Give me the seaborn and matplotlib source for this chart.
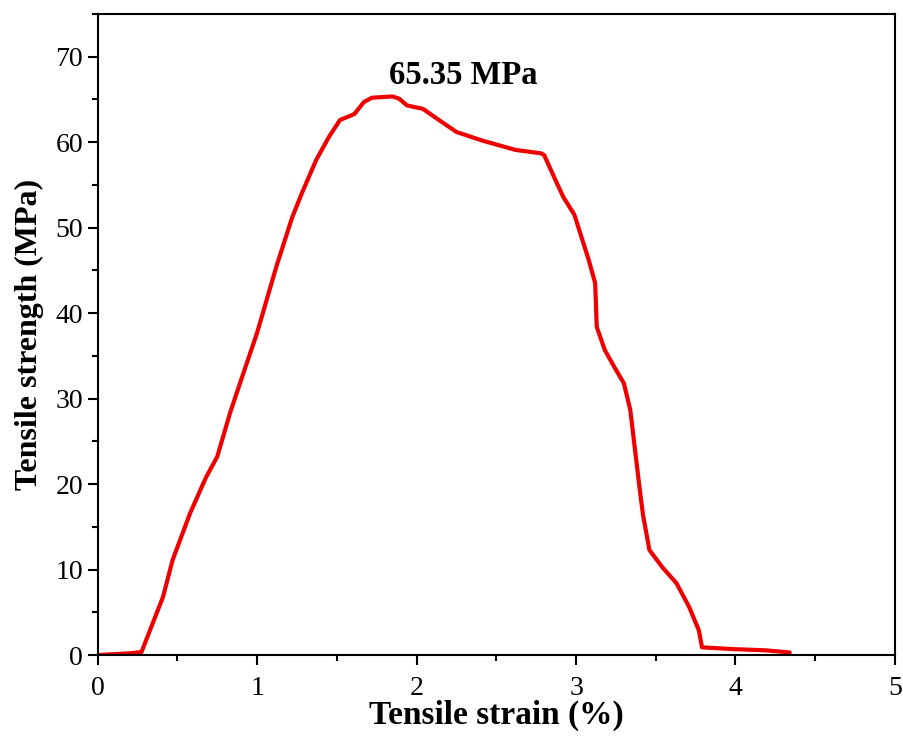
import matplotlib
matplotlib.use("Agg")
import matplotlib.pyplot as plt
import seaborn as sns
import pandas as pd
from matplotlib.ticker import MultipleLocator

strain = [0, 0.10, 0.20, 0.275, 0.41, 0.47, 0.58, 0.68, 0.75, 0.83, 0.90, 1.0,
          1.12, 1.22, 1.28, 1.37, 1.45, 1.52, 1.56, 1.61, 1.67, 1.72, 1.80, 1.85,
          1.89, 1.94, 2.04, 2.14, 2.25, 2.41, 2.62, 2.78, 2.80, 2.88, 2.92, 2.99,
          3.08, 3.12, 3.13, 3.18, 3.24, 3.30, 3.34, 3.37, 3.40, 3.42, 3.46, 3.54,
          3.63, 3.71, 3.77, 3.79, 3.98, 4.19, 4.34]
stress = [0, 0.1, 0.2, 0.35, 6.8, 11.1, 16.6, 20.8, 23.2, 28.3, 32.2, 37.7,
          45.4, 51.2, 54.0, 57.9, 60.6, 62.6, 62.9, 63.3, 64.7, 65.2, 65.3, 65.35,
          65.1, 64.3, 63.9, 62.6, 61.2, 60.2, 59.1, 58.7, 58.5, 55.2, 53.6, 51.5,
          46.2, 43.5, 38.4, 35.7, 33.7, 31.8, 28.7, 24.0, 19.3, 16.4, 12.3, 10.3,
          8.4, 5.6, 2.9, 0.9, 0.7, 0.55, 0.3]
peak_label = "65.35 MPa"
xlabel = "Tensile strain (%)"
ylabel = "Tensile strength (MPa)"

sns.set_style("ticks")
plt.rcParams["font.family"] = ["Liberation Serif", "DejaVu Serif"]
plt.rcParams["text.color"] = "black"
plt.rcParams["axes.labelcolor"] = "black"

df = pd.DataFrame({"strain": strain, "stress": stress})

fig = plt.figure(figsize=(9.04, 7.36), dpi=100)
ax = fig.add_axes([0.108, 0.110, 0.882, 0.871])
sns.lineplot(data=df, x="strain", y="stress", sort=False, color="#ee0000",
             linewidth=3, ax=ax, solid_joinstyle="round", solid_capstyle="round")

ax.set_xlim(0, 5)
ax.set_ylim(0, 75)
ax.xaxis.set_major_locator(MultipleLocator(1))
ax.xaxis.set_minor_locator(MultipleLocator(0.5))
ax.yaxis.set_minor_locator(MultipleLocator(5))
ax.set_yticks(range(0, 71, 10))

for s in ax.spines.values():
    s.set_visible(True)
    s.set_linewidth(1.5)
    s.set_color("black")
ax.tick_params(which="major", direction="out", length=7, width=1.5,
               labelsize=20, colors="black", labelcolor="black",
               top=False, right=False)
ax.tick_params(which="minor", direction="out", length=4, width=1.5,
               colors="black", top=False, right=False)
ax.tick_params(axis="x", pad=8)

ax.set_xlabel(xlabel, fontsize=24, fontweight="bold", labelpad=-1)
ax.set_ylabel(ylabel, fontsize=23, fontweight="bold", labelpad=8)
ax.text(2.29, 67.8, peak_label, fontsize=23.5, fontweight="bold",
        ha="center", va="center", color="black")

fig.savefig("out.png", dpi=100, facecolor="white")
